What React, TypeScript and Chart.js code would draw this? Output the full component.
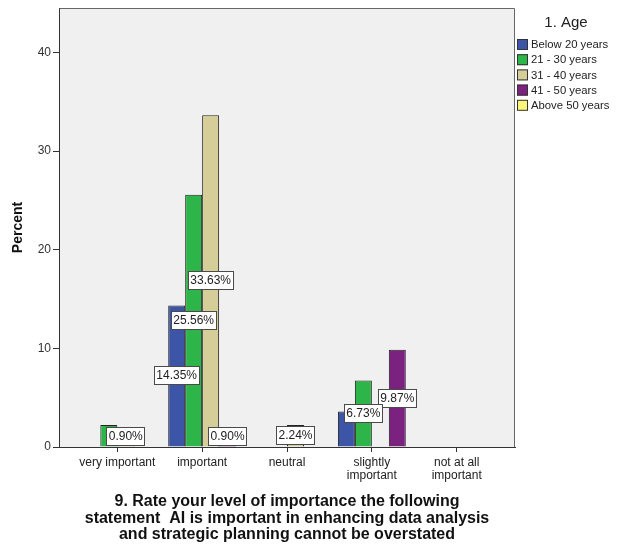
import { useEffect, useRef } from "react";
import { Chart, registerables } from "chart.js";

Chart.register(...registerables);

// ---- data ----
const categories: string[][] = [
  ["very important"],
  ["important"],
  ["neutral"],
  ["slightly", "important"],
  ["not at all", "important"],
];
const seriesNames = ["Below 20 years", "21 - 30 years", "31 - 40 years", "41 - 50 years", "Above 50 years"];
const below20 = [0, 14.35, 0, 3.59, 0];
const age21to30 = [2.24, 25.56, 0, 6.73, 0];
const age31to40 = [0.9, 33.63, 2.24, 0, 0];
const age41to50 = [0, 0.9, 0, 9.87, 0];
const above50 = [0, 0, 0, 0, 0];
// value labels that the original hides (series index, category index)
const hiddenLabels: [number, number][] = [
  [1, 0],
  [0, 3],
];
const yTickValues = [0, 10, 20, 30, 40];
const yTitle = "Percent";
const xTitle = [
  "9. Rate your level of importance the following",
  "statement  AI is important in enhancing data analysis",
  "and strategic planning cannot be overstated",
];
const legendTitle = "1. Age";

const seriesValues = [below20, age21to30, age31to40, age41to50, above50];
const seriesColors = ["#3d55a6", "#2db54a", "#d5ce98", "#7b2281", "#faf67a"];

const FONT = "'Liberation Sans', Arial, sans-serif";

const framePlugin = {
  id: "frame",
  beforeDraw(chart: any) {
    const { ctx, chartArea: a } = chart;
    ctx.save();
    ctx.fillStyle = "#f0f0f0";
    ctx.fillRect(a.left, a.top, a.right - a.left, a.bottom - a.top);
    ctx.restore();
  },
  afterDraw(chart: any) {
    const { ctx, chartArea: a } = chart;
    ctx.save();
    ctx.strokeStyle = "#666";
    ctx.lineWidth = 1;
    ctx.beginPath();
    ctx.moveTo(Math.round(a.left) + 0.5, Math.round(a.top) + 0.5);
    ctx.lineTo(Math.round(a.right) - 0.5, Math.round(a.top) + 0.5);
    ctx.lineTo(Math.round(a.right) - 0.5, Math.round(a.bottom));
    ctx.stroke();
    ctx.restore();
  },
};

const legendPlugin = {
  id: "customLegend",
  afterDraw(chart: any) {
    const { ctx } = chart;
    ctx.save();
    ctx.fillStyle = "#222";
    ctx.font = `15px ${FONT}`;
    ctx.textAlign = "center";
    ctx.textBaseline = "middle";
    ctx.fillText(legendTitle, 566, 23);
    ctx.font = `11.3px ${FONT}`;
    ctx.textAlign = "left";
    chart.data.datasets.forEach((ds: any, i: number) => {
      const top = 39 + i * 15.2;
      ctx.fillStyle = ds.backgroundColor;
      ctx.fillRect(517, top, 11, 11);
      ctx.strokeStyle = "#333";
      ctx.lineWidth = 1;
      ctx.strokeRect(517.5, top + 0.5, 10, 10);
      ctx.fillStyle = "#222";
      ctx.fillText(ds.label, 531, top + 6);
    });
    ctx.restore();
  },
};

const labelPlugin = {
  id: "barLabels",
  afterDatasetsDraw(chart: any) {
    const { ctx, chartArea: area } = chart;
    ctx.save();
    ctx.font = `12px ${FONT}`;
    ctx.textAlign = "center";
    ctx.textBaseline = "middle";
    for (let d = chart.data.datasets.length - 1; d >= 0; d--) {
      if (!chart.isDatasetVisible(d)) continue;
      const meta = chart.getDatasetMeta(d);
      meta.data.forEach((el: any, i: number) => {
        const raw = chart.data.datasets[d].data[i];
        const v = raw ? raw.y : null;
        if (v == null) return;
        if (hiddenLabels.some(([s, c]) => s === d && c === i)) return;
        const text = v.toFixed(2) + "%";
        const w = Math.round(ctx.measureText(text).width + 5);
        const h = 19;
        const p = el.getProps(["x", "y", "base"], true);
        let top = Math.round((p.y + p.base) / 2 - h / 2);
        if (top + h > area.bottom - 1) top = Math.round(area.bottom - 1 - h);
        const left = Math.round(p.x - w / 2);
        ctx.fillStyle = "#ffffff";
        ctx.fillRect(left, top, w, h);
        ctx.strokeStyle = "#4a4a4a";
        ctx.lineWidth = 1;
        ctx.strokeRect(left + 0.5, top + 0.5, w - 1, h - 1);
        ctx.fillStyle = "#222";
        ctx.fillText(text, p.x, top + h / 2 + 0.5);
      });
    }
    ctx.restore();
  },
};

export default function App() {
  const ref = useRef<HTMLCanvasElement | null>(null);

  useEffect(() => {
    document.body.style.margin = "0";
    const canvas = ref.current;
    if (!canvas) return;
    const datasets = seriesNames.map((name, s) => ({
      label: name,
      data: seriesValues[s].map((v, i) => ({ x: i, y: v > 0 ? v : null })),
      backgroundColor: seriesColors[s],
      borderColor: "#222",
      borderWidth: 1,
      borderSkipped: "bottom" as const,
      categoryPercentage: 0.8,
      barPercentage: 1.0,
      hidden: seriesValues[s].every((v) => v === 0),
    }));

    const chart = new Chart(canvas, {
      type: "bar",
      data: { datasets },
      options: {
        animation: false,
        responsive: false,
        maintainAspectRatio: false,
        events: [],
        layout: { padding: { top: 7, right: 102, left: 0, bottom: 0 } },
        plugins: {
          legend: { display: false },
          tooltip: { enabled: false },
        },
        scales: {
          x: {
            type: "linear",
            min: -0.687,
            max: 4.687,
            offset: false,
            grid: {
              display: true,
              offset: false,
              drawOnChartArea: false,
              drawTicks: true,
              tickLength: 5,
              color: "#333",
            },
            border: { display: true, color: "#333", width: 1 },
            ticks: {
              stepSize: 1,
              includeBounds: false,
              autoSkip: false,
              maxRotation: 0,
              padding: 4,
              color: "#222",
              font: { family: FONT, size: 12, lineHeight: 1.1 },
              callback: (value: any) => {
                const idx = Math.round(Number(value));
                return Math.abs(Number(value) - idx) < 1e-6 && categories[idx] ? categories[idx] : "";
              },
            },
            title: {
              display: true,
              text: xTitle,
              color: "#111",
              font: { family: FONT, size: 16, weight: "bold", lineHeight: 1.03 },
              padding: { top: 0, bottom: 1 },
            },
            afterFit: (scale: any) => {
              scale.height = 97;
            },
          },
          y: {
            type: "linear",
            min: 0,
            max: 44.5,
            grid: {
              display: true,
              drawOnChartArea: false,
              drawTicks: true,
              tickLength: 6,
              color: "#333",
            },
            border: { display: true, color: "#333", width: 1 },
            afterBuildTicks: (scale: any) => {
              scale.ticks = yTickValues.map((v) => ({ value: v }));
            },
            ticks: {
              padding: 2,
              color: "#333",
              font: { family: FONT, size: 12, lineHeight: 1 },
            },
            title: {
              display: true,
              text: yTitle,
              color: "#111",
              font: { family: FONT, size: 14, weight: "bold", lineHeight: 1.2 },
              padding: { top: 10, bottom: 0 },
            },
            afterFit: (scale: any) => {
              scale.width = 59;
            },
          },
        },
      },
      plugins: [framePlugin, labelPlugin, legendPlugin],
    } as any);

    return () => chart.destroy();
  }, []);

  return <canvas ref={ref} width={617} height={544} style={{ display: "block" }} />;
}
